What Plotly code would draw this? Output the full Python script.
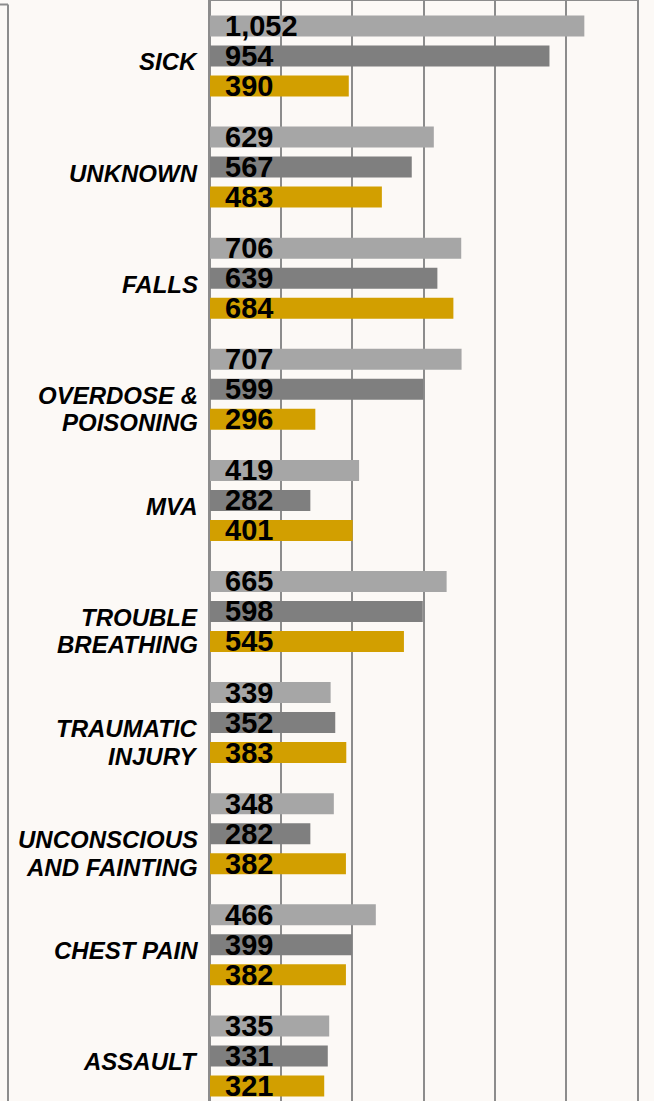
import plotly.graph_objects as go

categories = ["SICK", "UNKNOWN", "FALLS", "OVERDOSE &<br>POISONING", "MVA",
              "TROUBLE<br>BREATHING", "TRAUMATIC<br>INJURY",
              "UNCONSCIOUS<br>AND FAINTING", "CHEST PAIN", "ASSAULT"]
series_a = [1052, 629, 706, 707, 419, 665, 339, 348, 466, 335]
series_b = [954, 567, 639, 599, 282, 598, 352, 282, 399, 331]
series_c = [390, 483, 684, 296, 401, 545, 383, 382, 382, 321]
series_names = ["Series A", "Series B", "Series C"]
colors = ["#A6A6A6", "#7F7F7F", "#D29F00"]

BG = "#FCF9F6"
GRID = "#8C8C8C"
FONT = "Liberation Sans, Arial, sans-serif"

fig = go.Figure()
all_series = [series_a, series_b, series_c]
for name, vals, col in zip(series_names, all_series, colors):
    fig.add_trace(go.Bar(
        y=categories, x=vals, orientation="h", name=name,
        marker=dict(color=col, line=dict(width=0)),
        hoverinfo="x+y",
    ))

annotations = []
shifts = [30, 0, -30]
for vals, ys in zip(all_series, shifts):
    for cat, v in zip(categories, vals):
        annotations.append(dict(
            x=0, y=cat, xref="x", yref="y", text=f"<b>{v:,}</b>",
            showarrow=False, xanchor="left", yanchor="middle",
            xshift=13, yshift=ys,
            font=dict(family=FONT, size=29, color="#000000"),
        ))
line_shifts = [-6, -33.5]
for cat in categories:
    for i, line in enumerate(cat.split("<br>")):
        annotations.append(dict(
            x=0, y=cat, xref="x", yref="y", text=f"<b><i>{line}</i></b>",
            showarrow=False, xanchor="right", yanchor="middle", align="right",
            xshift=-10, yshift=line_shifts[i],
            font=dict(family=FONT, size=24, color="#000000"),
        ))

fx = (8 - 210) / 427.0
fy = 1 - 3.5 / 1100.0
fig.update_layout(
    width=654, height=1101,
    margin=dict(l=210, r=17, t=1, b=0),
    paper_bgcolor=BG, plot_bgcolor=BG,
    barmode="group", bargap=0.19, bargroupgap=0.3,
    showlegend=False,
    annotations=annotations,
    shapes=[
        dict(type="line", xref="paper", yref="paper", x0=-0.6, x1=fx, y0=fy, y1=fy,
             line=dict(color=GRID, width=2)),
        dict(type="line", xref="paper", yref="paper", x0=fx, x1=fx, y0=fy, y1=-0.01,
             line=dict(color=GRID, width=2)),
    ],
    xaxis=dict(range=[0, 1200], dtick=200, showgrid=True, gridcolor=GRID, gridwidth=2,
               zeroline=True, zerolinecolor=GRID, zerolinewidth=2,
               showticklabels=False, ticks="", side="top",
               showline=True, linecolor=GRID, linewidth=2),
    yaxis=dict(type="category", categoryorder="array", categoryarray=categories,
               range=[9.406, -0.495], showticklabels=False, ticks="",
               showgrid=False, zeroline=False,
               showline=True, mirror=True, linecolor=GRID, linewidth=2),
)

fig.write_html("out.html", config={"displayModeBar": False},
               post_script="document.body.style.margin='0';")
